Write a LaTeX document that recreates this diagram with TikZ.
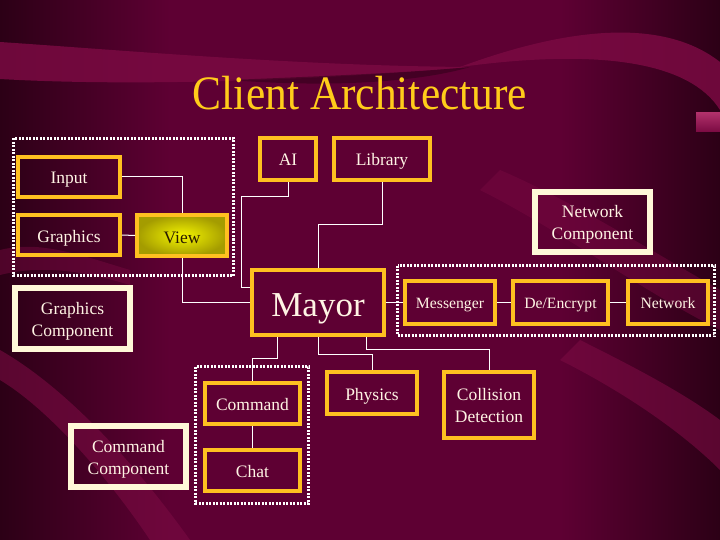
\documentclass[tikz,border=0pt]{standalone}
\usepackage{fontspec}
\setmainfont{Liberation Serif}
\newfontfamily\titlefont[FakeStretch=0.905]{Liberation Serif}
\definecolor{bgmid}{HTML}{5E0033}
\definecolor{bgdark}{HTML}{2C0016}
\definecolor{bglight}{HTML}{7A0A42}
\definecolor{gold}{HTML}{FFC020}
\definecolor{cream}{HTML}{FFF8D8}
\definecolor{txt}{HTML}{FFF4E4}
\definecolor{titlegold}{HTML}{FFCC1A}
\definecolor{viewin}{HTML}{F4F400}
\definecolor{viewout}{HTML}{A49C00}
\definecolor{viewtxt}{HTML}{2A1A00}
\definecolor{pinkblk}{HTML}{B0306A}
\begin{document}
\begin{tikzpicture}[x=1pt,y=-1pt,
  box/.style={draw=gold, line width=4pt, inner sep=0pt, align=center, text=txt,
    font=\fontsize{17.5}{22}\selectfont, text height=14pt, text depth=0pt},
  twoline/.style={text height=35pt, text depth=0pt},
  smallbox/.style={box, font=\fontsize{15.7}{20}\selectfont, text height=11.2pt},
  cbox/.style={draw=cream, line width=6pt, inner sep=0pt, align=center, text=txt,
    font=\fontsize{17.5}{22}\selectfont, twoline},
  grp/.style={draw=white, line width=3pt, dash pattern=on 2pt off 1.5pt},
  link/.style={draw=white, line width=1pt}]
% background
\useasboundingbox (0,0) rectangle (720,540);
\fill[bgmid] (0,0) rectangle (720,540);
\shade[left color=bgdark, right color=bgmid] (0,0) rectangle (170,540);
\shade[left color=bgmid, right color=bgdark] (560,0) rectangle (720,540);
% top wave
\fill[bglight, opacity=0.85] (0,42) .. controls (120,50) and (300,66) .. (470,67)
  .. controls (300,82) and (120,86) .. (0,79) -- cycle;
\fill[bglight, opacity=0.85] (460,67) .. controls (560,30) and (660,15) .. (720,62)
  -- (720,110) .. controls (690,62) and (600,48) .. (460,67) -- cycle;
\fill[bgdark, opacity=0.5] (230,80) .. controls (330,76) and (420,72) .. (470,67)
  .. controls (420,82) and (330,88) .. (230,80) -- cycle;
% lower waves
\fill[bglight, opacity=0.6] (0,380) .. controls (50,410) and (110,480) .. (150,540)
  -- (190,540) .. controls (140,470) and (70,390) .. (0,350) -- cycle;
\fill[bglight, opacity=0.6] (560,360) .. controls (620,390) and (680,430) .. (720,470)
  -- (720,420) .. controls (680,390) and (620,360) .. (580,340) -- cycle;
\fill[bglight, opacity=0.45] (480,190) .. controls (560,230) and (640,290) .. (720,330)
  -- (720,290) .. controls (650,250) and (570,200) .. (500,170) -- cycle;
\fill[bglight, opacity=0.45] (0,250) .. controls (40,240) and (80,255) .. (130,270)
  -- (130,285) .. controls (80,270) and (40,265) .. (0,275) -- cycle;
\shade[top color=pinkblk, bottom color=bglight] (696,113) rectangle (720,132);
% title
\node[anchor=base, text=titlegold, font=\titlefont\fontsize{48}{48}\selectfont] (title) at (360,110) {Client Architecture};
% groups
\draw[grp] (13.5,138.5) rectangle (233.5,275.5);
\draw[grp] (397.5,265.5) rectangle (714.5,335.5);
\draw[grp] (195.5,366.5) rectangle (308.5,503.5);
% nodes
\node[box, minimum width=102, minimum height=40] (input) at (69,177) {Input};
\node[box, minimum width=102, minimum height=40] (graphics) at (69,235) {Graphics};
\node[box, minimum width=90, minimum height=41, inner color=viewin, outer color=viewout, text=viewtxt, text height=16pt] (view) at (182,235.5) {View};
\node[box, minimum width=56, minimum height=42] (ai) at (288,159) {AI};
\node[box, minimum width=96, minimum height=42] (library) at (382,159) {Library};
\node[box, minimum width=132, minimum height=65, font=\fontsize{35}{40}\selectfont, text height=28.4pt] (mayor) at (318,302.5) {Mayor};
\node[smallbox, minimum width=90, minimum height=43] (messenger) at (450,302.5) {Messenger};
\node[smallbox, minimum width=95, minimum height=43] (deenc) at (560.5,302.5) {De/Encrypt};
\node[smallbox, minimum width=80, minimum height=43] (network) at (668,302.5) {Network};
\node[cbox, minimum width=115, minimum height=60] (netcomp) at (592.5,222) {Network\\Component};
\node[cbox, minimum width=115, minimum height=61] (graphcomp) at (72.5,318.5) {Graphics\\Component};
\node[cbox, minimum width=115, minimum height=61] (cmdcomp) at (128.5,456.5) {Command\\Component};
\node[box, minimum width=95, minimum height=41] (command) at (252.5,403.5) {Command};
\node[box, minimum width=95, minimum height=41] (chat) at (252.5,470.5) {Chat};
\node[box, minimum width=90, minimum height=42] (physics) at (372,393) {Physics};
\node[box, twoline, minimum width=90, minimum height=66] (collision) at (489,405) {Collision\\Detection};
% helper coordinates
\coordinate (aiL) at (241,197);
\coordinate (libC) at (318,225);
\coordinate (colK) at (366,349);
\coordinate (phyK) at (372,354);
\coordinate (cmdK) at (252.5,358);
% connectors
\draw[link] (input.east) -| (view.north);
\draw[link] (graphics.east) -- (view.west);
\draw[link] (view.south) |- (mayor.west);
\draw[link] (ai.south) |- (aiL) |- ([yshift=15.5pt]mayor.west);
\draw[link] (library.south) |- (libC) -- (mayor.north);
\draw[link] (mayor.east) -- (messenger.west);
\draw[link] (messenger.east) -- (deenc.west);
\draw[link] (deenc.east) -- (network.west);
\draw[link] ([xshift=48pt]mayor.south) |- (colK) -| (collision.north);
\draw[link] (mayor.south) |- (phyK) -- (physics.north);
\draw[link] ([xshift=-41pt]mayor.south) |- (cmdK) -- (command.north);
\draw[link] (command.south) -- (chat.north);
\end{tikzpicture}
\end{document}
